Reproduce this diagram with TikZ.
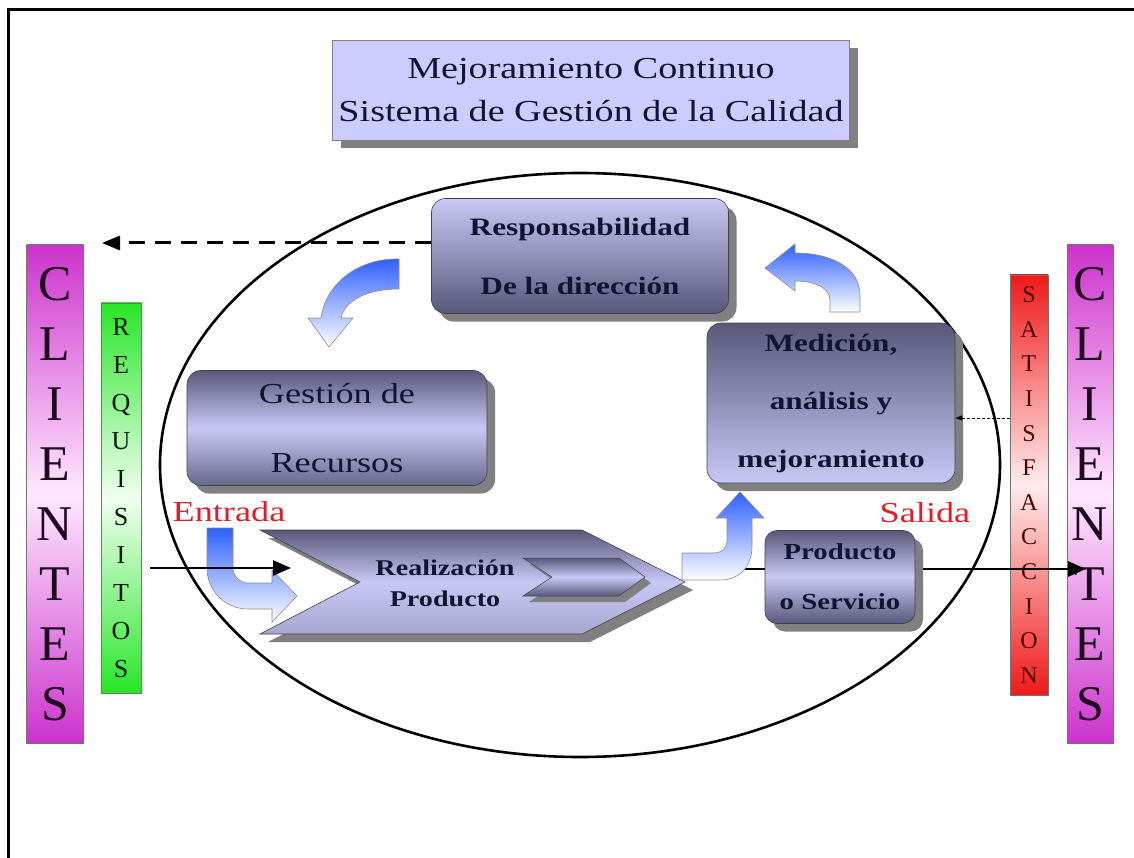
\documentclass[tikz,border=0pt]{standalone}
\usepackage{fontspec}
\setmainfont{Liberation Serif}
\newfontfamily\widefont[FakeStretch=1.25]{Liberation Serif}
\usetikzlibrary{arrows.meta,shadows}
\definecolor{boxdark}{RGB}{88,88,122}
\definecolor{boxlight}{RGB}{200,200,245}
\definecolor{titlefill}{RGB}{204,204,255}
\definecolor{shadowgray}{RGB}{128,128,128}
\definecolor{arrowblue}{RGB}{45,95,255}
\definecolor{cmag}{RGB}{204,51,204}
\definecolor{cmaglight}{RGB}{255,232,255}
\definecolor{rgreen}{RGB}{40,230,40}
\definecolor{rgreenlight}{RGB}{240,255,240}
\definecolor{sred}{RGB}{240,25,25}
\definecolor{sredlight}{RGB}{255,236,236}
\definecolor{txtred}{RGB}{225,30,40}
\definecolor{navy}{RGB}{20,20,50}
\tikzset{
  shadowed/.style={drop shadow={shadow xshift=8pt, shadow yshift=-8pt, fill=shadowgray, opacity=1}},
  procbox/.style={rounded corners=14pt, draw=boxdark!70!black, line width=0.6pt, shadowed,
    align=center, inner sep=0pt, text=navy},
  baseside/.style={draw=black!55, line width=0.6pt, inner sep=0pt, align=center},
  bentarrow/.style={draw=black!45, line width=0.6pt, top color=arrowblue, bottom color=white},
  mainline/.style={line width=2.6pt, -{Triangle[length=18pt,width=15pt]}},
  dasharrow/.style={line width=3pt, dash pattern=on 16pt off 10pt, -{Triangle[length=18pt,width=14pt]}},
  dotarrow/.style={line width=0.8pt, dash pattern=on 3pt off 2pt, -{Triangle[length=7pt,width=5pt]}},
  redlabel/.style={text=txtred, inner sep=0pt, font=\widefont\fontsize{29}{29}\selectfont}
}
\begin{document}
\begin{tikzpicture}[x=1pt,y=-1pt]
\useasboundingbox (0,0) rectangle (1134,858);
% frame
\draw[line width=3pt] (8,858) -- (8,10) -- (1134,10);

% title
\node[draw=black!50, line width=0.6pt, fill=titlefill, shadowed, minimum width=517pt, minimum height=100pt,
      align=center, inner sep=0pt, text=navy, font=\widefont\fontsize{30.5}{43}\selectfont] (title) at (591,90)
  {Mejoramiento Continuo\\Sistema de Gestión de la Calidad};

% ellipse
\draw[line width=2.6pt] (580,465) ellipse [x radius=420pt, y radius=292pt];

% side bars
\node[baseside, top color=cmag, bottom color=cmag, middle color=cmaglight, text=black!85!cmag,
      minimum width=57pt, minimum height=498pt, font=\fontsize{50}{60}\selectfont] (cliL) at (55,494)
  {C\\L\\I\\E\\N\\T\\E\\S};
\node[baseside, top color=cmag, bottom color=cmag, middle color=cmaglight, text=black!85!cmag,
      minimum width=46pt, minimum height=498pt, font=\fontsize{50}{60}\selectfont] (cliR) at (1090,494)
  {C\\L\\I\\E\\N\\T\\E\\S};
\node[baseside, top color=rgreen, bottom color=rgreen, middle color=rgreenlight, text=black!75!green!40!black,
      minimum width=40pt, minimum height=390pt, font=\fontsize{26}{38}\selectfont] (req) at (121,498)
  {R\\E\\Q\\U\\I\\S\\I\\T\\O\\S};
\node[baseside, top color=sred, bottom color=sred, middle color=sredlight, text=black!70!red,
      minimum width=38pt, minimum height=420pt, font=\fontsize{24}{34.6}\selectfont] (sat) at (1029,485)
  {S\\A\\T\\I\\S\\F\\A\\C\\C\\I\\O\\N};

% output line (behind producto box)
\coordinate (outstart) at (700,569);
\coordinate (outend) at (1086,569);
\draw[mainline] (outstart) -- (outend);

% chevron
\path[shadowed, draw=boxdark!70!black, line width=0.6pt, top color=boxdark, bottom color=boxlight!70!boxdark, middle color=boxlight]
  (260,530) -- (582,530) -- (685,582) -- (582,634) -- (260,634) -- (360,582) -- cycle;
\path[drop shadow={shadow xshift=6pt, shadow yshift=-6pt, fill=shadowgray, opacity=1},
      draw=boxdark!70!black, line width=0.5pt, top color=boxdark, bottom color=boxdark, middle color=boxlight]
  (523,558) -- (619,558) -- (645,577) -- (619,596) -- (523,596) -- (552,577) -- cycle;
\node[align=center, inner sep=0pt, text=navy, font=\widefont\bfseries\fontsize{22.5}{31}\selectfont] (real) at (445,583)
  {Realización\\Producto};

% boxes
\node[procbox, top color=boxlight, bottom color=boxdark, minimum width=297pt, minimum height=115pt,
      font=\widefont\bfseries\fontsize{25}{59}\selectfont] (resp) at (580,256)
  {Responsabilidad\\De la dirección};
\node[procbox, top color=boxdark, bottom color=boxdark!85!boxlight, middle color=boxlight, minimum width=300pt, minimum height=115pt,
      font=\widefont\fontsize{29}{69}\selectfont] (gest) at (337,428)
  {Gestión de\\Recursos};
\node[procbox, top color=boxdark, bottom color=boxlight, minimum width=248pt, minimum height=160pt,
      font=\widefont\bfseries\fontsize{25}{58}\selectfont] (med) at (831,403)
  {Medición,\\análisis y\\mejoramiento};
\node[procbox, rounded corners=12pt, top color=boxdark, bottom color=boxdark, middle color=boxlight, minimum width=150pt, minimum height=93pt,
      font=\widefont\bfseries\fontsize{23}{50}\selectfont] (prod) at (840,577)
  {Producto\\o Servicio};

% labels
\node[redlabel] (entrada) at (229,512) {Entrada};
\node[redlabel] (salida) at (925,513) {Salida};

% bent arrows
\path[bentarrow] (207,528) -- (207,568) .. controls (207,591) and (225,609) .. (248,609) -- (272,609) -- (272,622)
  -- (297,596) -- (272,570) -- (272,583) -- (248,583) .. controls (240,583) and (233,576) .. (233,568) -- (233,528) -- cycle;
\path[bentarrow] (399,259) .. controls (360,258) and (326,282) .. (321,318) -- (308,318) -- (329,347) -- (353,318)
  -- (341,318) .. controls (345,300) and (368,289) .. (399,289) -- cycle;
\path[bentarrow] (860,312) -- (860,295) .. controls (860,268) and (832,253) .. (795,253) -- (795,244) -- (765,268)
  -- (795,291) -- (795,281) .. controls (815,281) and (830,288) .. (830,300) -- (830,312) -- cycle;
\path[bentarrow] (682,580) -- (720,580) .. controls (740,580) and (752,566) .. (752,546) -- (752,518) -- (764,518)
  -- (740,492) -- (716,518) -- (727,518) -- (727,540) .. controls (727,549) and (722,553) .. (712,553) -- (682,553) -- cycle;

% input line
\coordinate (instart) at (150,568);
\coordinate (inend) at (291,568);
\draw[mainline] (instart) -- (inend);

% dashed feedback to clients
\coordinate (dashend) at (102,243);
\draw[dasharrow] ([yshift=13pt]resp.west) -- (dashend);

% satisfaction to measurement
\coordinate (medpt) at ([yshift=-15pt]med.east);
\draw[dotarrow] (sat.west |- medpt) -- (medpt);
\end{tikzpicture}
\end{document}
